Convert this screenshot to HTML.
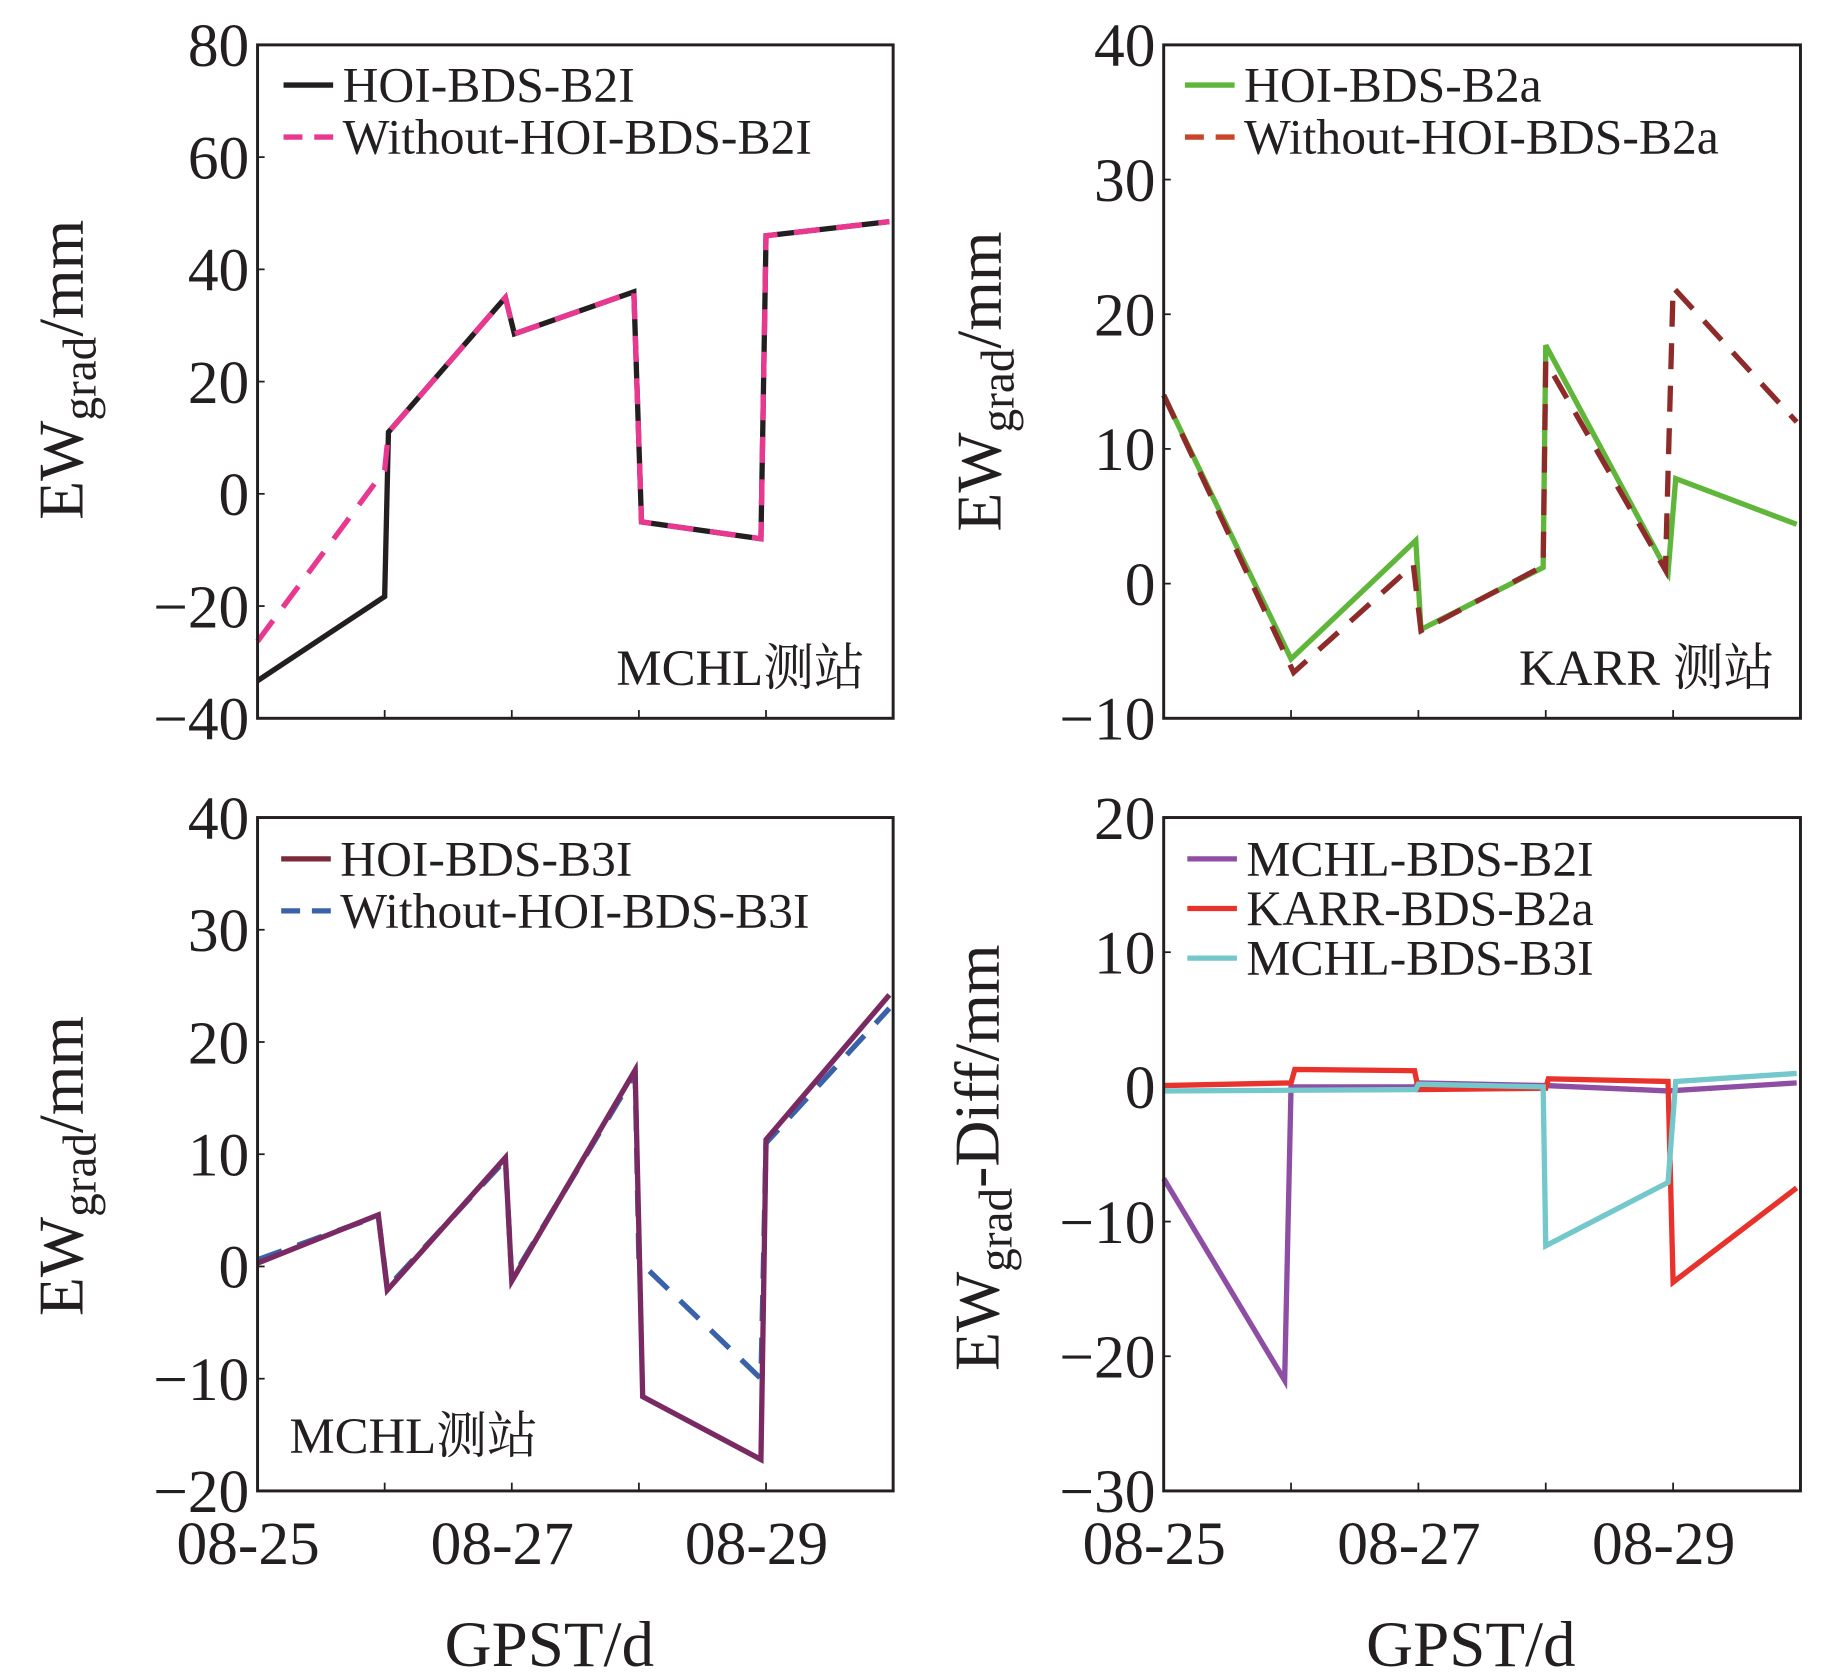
<!DOCTYPE html>
<html><head><meta charset="utf-8"><style>
html,body{margin:0;padding:0;background:#fff;}
svg{display:block;}
text{font-family:"Liberation Serif","Noto Serif CJK SC",serif;fill:#231f20;}
</style></head><body>
<svg id="fig" width="1843" height="1677" viewBox="0 0 1560 1419.5" xmlns="http://www.w3.org/2000/svg"></svg>
<script>
// ---- data (x in day-of-month, y in mm) ----
const xTickLabels = ["08-25","08-27","08-29"];
const xTickDays = [25,27,29];
const xMinorDays = [26,27,28,29];

const tlHoiX = [25,26,26.03,26.95,27.02,27.96,28.02,28.96,29.0,29.97];
const tlHoiY = [-33.3,-18.3,11,35,28.5,36,-5,-8,46,48.5];
const tlNoX = [25,26,26.03,26.95,27.02,27.96,28.02,28.96,29.0,29.97];
const tlNoY = [-26.3,4.2,11,35,28.5,36,-5,-8,46,48.5];

const trHoiX = [25,26,26.98,27.02,27.98,28.0,28.96,29.02,29.97];
const trHoiY = [14,-5.6,3.2,-3.4,1.2,17.7,0.8,7.8,4.4];
const trNoX = [25,26.02,26.96,27.02,27.98,28.0,28.94,29.0,29.97];
const trNoY = [14,-6.6,1.4,-3.5,1.3,16.5,1.0,22,12];

const blHoiX = [25,25.95,26.02,26.95,27.0,27.97,28.03,28.96,29.0,29.97];
const blHoiY = [0.3,4.6,-2.1,9.7,-1.3,17.5,-11.6,-17.2,11.3,24.2];
const blNoX = [25,25.95,26.02,26.95,27.0,27.97,28.0,28.96,29.0,29.97];
const blNoY = [0.6,4.5,-1.9,9.5,-1.1,17.2,0.5,-10,11,23];

const brB2IX = [25,25.95,26.0,26.97,27.0,28.0,28.96,29.97];
const brB2IY = [-6.8,-21.8,0,0,0.3,0.1,-0.3,0.3];
const brB2aX = [25,26.0,26.03,26.97,27.0,28.0,28.02,28.96,29.0,29.97];
const brB2aY = [0.1,0.3,1.3,1.2,-0.2,-0.1,0.6,0.4,-14.5,-7.5];
const brB3IX = [25,26.98,27.0,27.98,28.0,28.96,29.02,29.97];
const brB3IY = [-0.3,-0.2,0.2,0,-11.8,-7.1,0.4,1.0];

const tlYTicks = [80,60,40,20,0,-20,-40];
const trYTicks = [40,30,20,10,0,-10];
const blYTicks = [40,30,20,10,0,-10,-20];
const brYTicks = [20,10,0,-10,-20,-30];

// ---- drawing ----
const NS="http://www.w3.org/2000/svg";
const svg=document.getElementById('fig');
function el(tag,attrs,parent,txt){const e=document.createElementNS(NS,tag);for(const k in attrs)e.setAttribute(k,attrs[k]);if(txt!==undefined)e.textContent=txt;(parent||svg).appendChild(e);return e;}
function fmt(v){return v<0?"\u2212"+Math.abs(v):String(v);}

function panel(id,x0,y0,w,h,ymin,ymax,yTicks,showXLabels){
  const g=el('g',{});
  
  
  const sx=d=>x0+(d-25)/5*w;
  const sy=v=>y0+(ymax-v)/(ymax-ymin)*h;
  const yt=el('g',{},g);
  
  
  yTicks.forEach(v=>{
    const t=el('text',{x:x0-7,y:sy(v)+18,'font-size':52,'text-anchor':'end'},yt,fmt(v));
    
    
    el('line',{x1:x0,x2:x0+6,y1:sy(v),y2:sy(v),stroke:'#231f20','stroke-width':1.5},yt);
  });
  xMinorDays.forEach(d=>{el('line',{x1:sx(d),x2:sx(d),y1:y0+h,y2:y0+h-7,stroke:'#231f20','stroke-width':1.5},g);});
  if(showXLabels){
    xTickDays.forEach((d,i)=>{
      const t=el('text',{x:sx(d)-8,y:y0+h+62,'font-size':52,'text-anchor':'middle'},g,xTickLabels[i]);
      
      
    });
  }
  return {g,sx,sy,x0,y0,w,h};
}
function series(p,name,xs,ys,color,dash,width){
  const pts=xs.map((x,i)=>p.sx(x).toFixed(1)+','+p.sy(ys[i]).toFixed(1)).join(' ');
  const a={points:pts,fill:'none',stroke:color,'stroke-width':width||4.5,'stroke-linejoin':'miter'};
  if(dash)a['stroke-dasharray']=dash;
  const l=el('polyline',a,p.g);
  
  
}
function frame(p){
  const r=el('rect',{x:p.x0,y:p.y0,width:p.w,height:p.h,fill:'none',stroke:'#231f20','stroke-width':2.5},p.g);
  
  
}
function legend(p,x,y,items,gap){
  const lg=el('g',{},p.g);
  
  
  items.forEach((it,i)=>{
    const yy=y+i*gap;
    const a={x1:x,x2:x+42,y1:yy,y2:yy,stroke:it[1],'stroke-width':4.5};
    if(it[2])a['stroke-dasharray']=it[2];
    el('line',a,lg);
    const t=el('text',{x:x+50,y:yy+14,'font-size':42},lg,it[0]);
    
    
  });
}
function ylabel(x,y,main,sub,rest){
  const t=el('text',{transform:`translate(${x},${y}) rotate(-90)`,'font-size':54,'text-anchor':'middle'});
  
  
  el('tspan',{},t,main);
  el('tspan',{'font-size':40,dy:11},t,sub);
  el('tspan',{'font-size':54,dy:-11},t,rest);
}

// top-left
let p=panel('panel-mchl-b2i',218,38,538,570,-40,80,tlYTicks,false);
series(p,'line-hoi-b2i',tlHoiX,tlHoiY,'#231f20');
series(p,'line-without-hoi-b2i',tlNoX,tlNoY,'#e8388f','22 14');
frame(p);
legend(p,240,72,[['HOI-BDS-B2I','#231f20'],['Without-HOI-BDS-B2I','#e8388f','16 10']],44);
el('text',{x:732,y:580,'font-size':43,'text-anchor':'end'},p.g,'MCHL测站');

// top-right
p=panel('panel-karr-b2a',985,38,539,570,-10,40,trYTicks,false);
series(p,'line-hoi-b2a',trHoiX,trHoiY,'#5fb63a');
series(p,'line-without-hoi-b2a',trNoX,trNoY,'#8e2a2a','22 14');
frame(p);
legend(p,1003,72,[['HOI-BDS-B2a','#5fb63a'],['Without-HOI-BDS-B2a','#c8442a','16 10']],44);
el('text',{x:1502,y:580,'font-size':43,'text-anchor':'end'},p.g,'KARR 测站');

// bottom-left
p=panel('panel-mchl-b3i',218,692,538,570,-20,40,blYTicks,true);
series(p,'line-without-hoi-b3i',blNoX,blNoY,'#3a62a8','22 14');
series(p,'line-hoi-b3i',blHoiX,blHoiY,'#7a2a62');
frame(p);
legend(p,238,727,[['HOI-BDS-B3I','#7a2a3a'],['Without-HOI-BDS-B3I','#3a62a8','16 10']],44);
el('text',{x:245,y:1230,'font-size':43},p.g,'MCHL测站');

// bottom-right
p=panel('panel-diff',985,692,539,570,-30,20,brYTicks,true);
series(p,'line-mchl-b2i-diff',brB2IX,brB2IY,'#8e4ea3');
series(p,'line-karr-b2a-diff',brB2aX,brB2aY,'#e8322b');
series(p,'line-mchl-b3i-diff',brB3IX,brB3IY,'#74c8cc');
frame(p);
legend(p,1005,727,[['MCHL-BDS-B2I','#8e4ea3'],['KARR-BDS-B2a','#e8322b'],['MCHL-BDS-B3I','#74c8cc']],42);

// axis titles
ylabel(70,313,'EW','grad','/mm');
ylabel(847,323,'EW','grad','/mm');
ylabel(70,987,'EW','grad','/mm');
ylabel(845,980,'EW','grad','-Diff/mm');
let xt=el('text',{x:465,y:1410,'font-size':55,'text-anchor':'middle'},svg,'GPST/d');


xt=el('text',{x:1245,y:1410,'font-size':55,'text-anchor':'middle'},svg,'GPST/d');


</script>
</body></html>
